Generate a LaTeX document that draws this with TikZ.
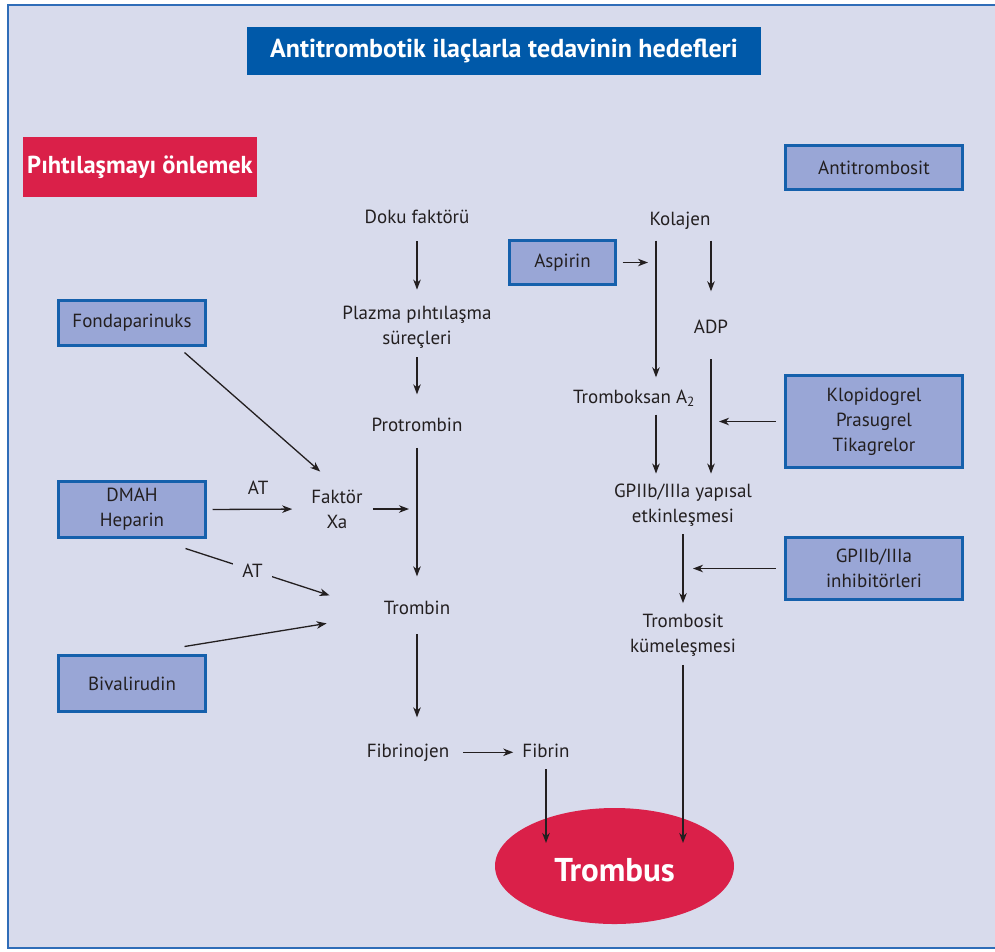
\documentclass[tikz,border=0pt]{standalone}
\usepackage{fontspec}
\setmainfont{PT Sans}
\usetikzlibrary{arrows.meta,shapes.geometric,calc}
\definecolor{panel}{HTML}{D8DBEC}
\definecolor{frameblue}{HTML}{2F6DB8}
\definecolor{boxfill}{HTML}{99A6D6}
\definecolor{boxline}{HTML}{1560AC}
\definecolor{titleblue}{HTML}{0059A9}
\definecolor{alarmred}{HTML}{DA2049}
\definecolor{ink}{HTML}{231F20}
\tikzset{
  txt/.style={inner xsep=2pt, inner ysep=0pt, align=center, text=ink,
    font=\fontsize{19}{25}\selectfont},
  drug/.style={txt, draw=boxline, fill=boxfill, line width=3pt, inner sep=0pt},
  arr/.style={draw=ink, line width=1.3pt, -{Stealth[length=10pt,width=7.5pt,inset=3pt]}},
}
\begin{document}
\begin{tikzpicture}[x=1pt,y=-1pt]
\useasboundingbox (0,0) rectangle (995,951);
\fill[panel] (8,5) rectangle (995,948);
\draw[frameblue, line width=2pt] (995,5) -- (8,5) -- (8,948) -- (995,948);

% headings
\node[fill=titleblue, text=white, inner sep=0pt, minimum width=514pt, minimum height=48pt,
  font=\fontsize{26}{30}\selectfont\bfseries] (title) at (504,51) {Antitrombotik ilaçlarla tedavinin hedefleri};
\node[fill=alarmred, text=white, inner sep=0pt, minimum width=234pt, minimum height=60pt,
  font=\fontsize{24.5}{28}\selectfont\bfseries] (pihti) at (140,167) {Pıhtılaşmayı önlemek};
\node[drug, minimum width=177pt, minimum height=44pt] (antitr) at (874,167.5) {Antitrombosit};

% drug boxes
\node[drug, minimum width=106pt, minimum height=44pt] (aspirin) at (562.5,262.5) {Aspirin};
\node[drug, minimum width=147pt, minimum height=45pt] (fonda) at (132,323) {Fondaparinuks};
\node[drug, minimum width=147pt, minimum height=56pt] (dmah) at (132,509.5) {DMAH\\Heparin};
\node[drug, minimum width=147pt, minimum height=56pt] (bival) at (132,683.5) {Bivalirudin};
\node[drug, minimum width=177pt, minimum height=92pt] (klopi) at (874,421.5) {Klopidogrel\\Prasugrel\\Tikagrelor};
\node[drug, minimum width=177pt, minimum height=62pt] (gpinh) at (874,568.5) {GPIIb/IIIa\\inhibitörleri};

% coagulation cascade
\node[txt, anchor=base] (doku) at (417,223) {Doku faktörü};
\node[txt] (plazma) at (417,327) {Plazma pıhtılaşma\\süreçleri};
\node[txt, anchor=base] (protr) at (417,431) {Protrombin};
\node[txt] (faktor) at (337,509) {Faktör\\Xa};
\node[txt, anchor=base] (trombin) at (417,614) {Trombin};
\node[txt, anchor=base] (fibrinojen) at (408,757) {Fibrinojen};
\node[txt, anchor=base] (fibrin) at (546,757) {Fibrin};

% platelet pathway
\node[txt, anchor=base] (kolajen) at (680,225) {Kolajen};
\node[txt, anchor=base] (adp) at (711,333) {ADP};
\node[txt, anchor=base] (trombok) at (634,403) {Tromboksan A\textsubscript{2}};
\node[txt] (gp) at (683,505) {GPIIb/IIIa yapısal\\etkinleşmesi};
\node[txt] (trombosit) at (683,635.5) {Trombosit\\kümeleşmesi};

\node[ellipse, fill=alarmred, text=white, minimum width=239pt, minimum height=116pt, inner sep=0pt,
  text height=32pt, font=\fontsize{33}{36}\selectfont\bfseries] (trombus) at (614.5,866) {Trombus};

\coordinate (txa) at ([xshift=-24pt]kolajen.south);
\coordinate (tadp) at ([xshift=31pt]kolajen.south);

% cascade arrows
\draw[arr, shorten <=18pt, shorten >=16pt] (doku.south) -- (doku.south |- plazma.north);
\draw[arr, shorten <=9pt, shorten >=23pt] (plazma.south) -- (plazma.south |- protr.north);
\draw[arr, shorten <=16.5pt, shorten >=24pt] (protr.south) -- (protr.south |- trombin.north);
\draw[arr, shorten <=20pt, shorten >=26pt] (trombin.south) -- (trombin.south |- fibrinojen.north);
\draw[arr, shorten <=12pt, shorten >=7pt] (fibrinojen.east) -- (fibrinojen.east -| fibrin.west);
\draw[arr, shorten <=12pt, shorten >=23pt] (fibrin.south) -- (fibrin.south |- trombus.center);

\draw[arr] ([shift={(-22.5,5.5)}]fonda.south east) -- ([shift={(11,-18)}]faktor.north west);
\draw[arr, shorten <=5.5pt, shorten >=17pt] (dmah.east) -- node[txt, midway, above=14pt, inner sep=0pt] (at1) {AT} (faktor.west);
\draw[arr, shorten <=8pt, shorten >=8pt] (faktor.east) -- (faktor.east -| protr.south);
\draw[arr] ([shift={(-21.5,9.5)}]dmah.south east) -- node[txt, pos=0.465, fill=panel, inner xsep=9pt, inner ysep=3pt] (at2) {AT} ([shift={(-52,-12)}]trombin.west);
\draw[arr] ([shift={(-22.5,-7.5)}]bival.north east) -- ([shift={(-55,16)}]trombin.west);

% platelet arrows
\draw[arr, shorten <=5.5pt, shorten >=8pt] (aspirin.east) -- (aspirin.east -| txa);
\draw[arr, shorten <=11.5pt, shorten >=12pt] (txa) -- (txa |- trombok.north);
\draw[arr, shorten <=11.5pt, shorten >=28pt] (tadp) -- (tadp |- adp.north);
\draw[arr, shorten <=8pt, shorten >=10pt] (trombok.south -| txa) -- (txa |- gp.north);
\draw[arr, shorten <=26pt, shorten >=10pt] (adp.south) -- (adp.south |- gp.north);
\draw[arr, shorten <=8.5pt, shorten >=8pt] (klopi.west) -- (klopi.west -| adp.south);
\draw[arr, shorten <=8pt, shorten >=11pt] (gp.south) -- (gp.south |- trombosit.north);
\draw[arr, shorten <=8.5pt, shorten >=10pt] (gpinh.west) -- (gpinh.west -| gp.south);
\draw[arr, shorten <=8pt, shorten >=23pt] (trombosit.south) -- (trombosit.south |- trombus.center);
\end{tikzpicture}
\end{document}
